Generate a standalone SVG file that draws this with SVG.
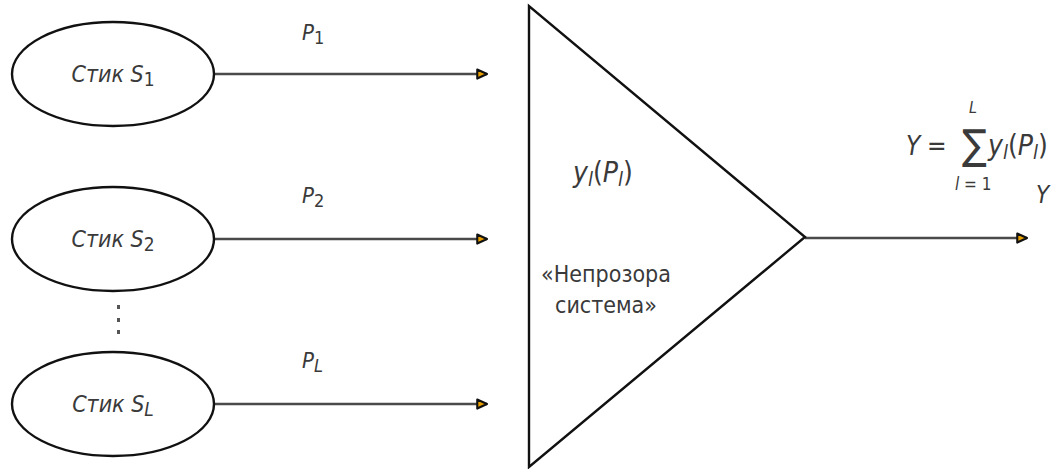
<svg xmlns="http://www.w3.org/2000/svg" width="1063" height="469" viewBox="0 0 1063 469">
<defs>
<marker id="arr" viewBox="0 0 10 10" refX="9" refY="5" markerWidth="13" markerHeight="13" orient="auto" markerUnits="userSpaceOnUse">
<path d="M1.5,1.5 L9,5 L1.5,8.5 Z" fill="#e8a000" stroke="#111" stroke-width="1.6" stroke-linejoin="round"/>
</marker>
<style>
.node{fill:#fff;stroke:#111;stroke-width:2.4}
.conn{stroke:#4a4a4a;stroke-width:2.4;fill:none;marker-end:url(#arr)}
.t{font-family:"DejaVu Sans Condensed","DejaVu Sans",sans-serif;font-stretch:condensed;fill:#3a3a3a}
.i{font-style:italic}
</style>
</defs>
<rect width="1063" height="469" fill="#fff"/>
<g id="connectors">
<line class="conn" x1="215" y1="74" x2="487" y2="74"/>
<line class="conn" x1="215" y1="239" x2="487" y2="239"/>
<line class="conn" x1="215" y1="404" x2="487" y2="404"/>
<line class="conn" x1="805" y1="238" x2="1027" y2="238"/>
</g>
<g id="s1">
<ellipse class="node" cx="113" cy="74" rx="101" ry="52"/>
<text class="t i" x="113" y="82" font-size="23" text-anchor="middle">Стик S<tspan font-size="19" dy="4" font-style="normal">1</tspan></text>
</g>
<g id="s2">
<ellipse class="node" cx="113" cy="239" rx="101" ry="52"/>
<text class="t i" x="113" y="247" font-size="23" text-anchor="middle">Стик S<tspan font-size="19" dy="4" font-style="normal">2</tspan></text>
</g>
<g id="sL">
<ellipse class="node" cx="113" cy="404" rx="101" ry="52"/>
<text class="t i" x="113" y="412" font-size="23" text-anchor="middle">Стик S<tspan font-size="19" dy="4">L</tspan></text>
</g>
<g id="dots" fill="#555">
<rect x="117" y="305" width="3" height="4"/>
<rect x="117" y="318" width="3" height="4"/>
<rect x="117" y="330" width="3" height="4"/>
</g>
<g id="labels">
<text class="t i" x="302" y="40" font-size="22">P<tspan font-size="18" dy="4" font-style="normal">1</tspan></text>
<text class="t i" x="302" y="203" font-size="22">P<tspan font-size="18" dy="4" font-style="normal">2</tspan></text>
<text class="t i" x="302" y="368" font-size="22">P<tspan font-size="18" dy="4">L</tspan></text>
</g>
<g id="system">
<polygon class="node" points="529,6 529,467 805,237"/>
<text class="t i" x="573" y="182" font-size="28">y<tspan font-size="20" dy="4">l</tspan><tspan dy="-4" font-style="normal">(</tspan>P<tspan font-size="20" dy="4">l</tspan><tspan dy="-4" font-style="normal">)</tspan></text>
<text class="t" x="606" y="282" font-size="23" text-anchor="middle">«Непрозора</text>
<text class="t" x="606" y="313" font-size="23" text-anchor="middle">система»</text>
</g>
<g id="formula">
<text class="t i" x="906" y="155" font-size="26">Y</text>
<text class="t" x="927" y="155" font-size="26">=</text>
<text class="t" x="962" y="159" font-size="41">∑</text>
<text class="t i" x="969" y="113" font-size="16">L</text>
<text class="t i" x="988" y="155" font-size="28">y<tspan font-size="20" dy="4">l</tspan><tspan dy="-4" font-style="normal">(</tspan>P<tspan font-size="20" dy="4">l</tspan><tspan dy="-4" font-style="normal">)</tspan></text>
<text class="t" x="955" y="190" font-size="17"><tspan font-style="italic">l</tspan> = 1</text>
<text class="t i" x="1036" y="203" font-size="24">Y</text>
</g>
</svg>
